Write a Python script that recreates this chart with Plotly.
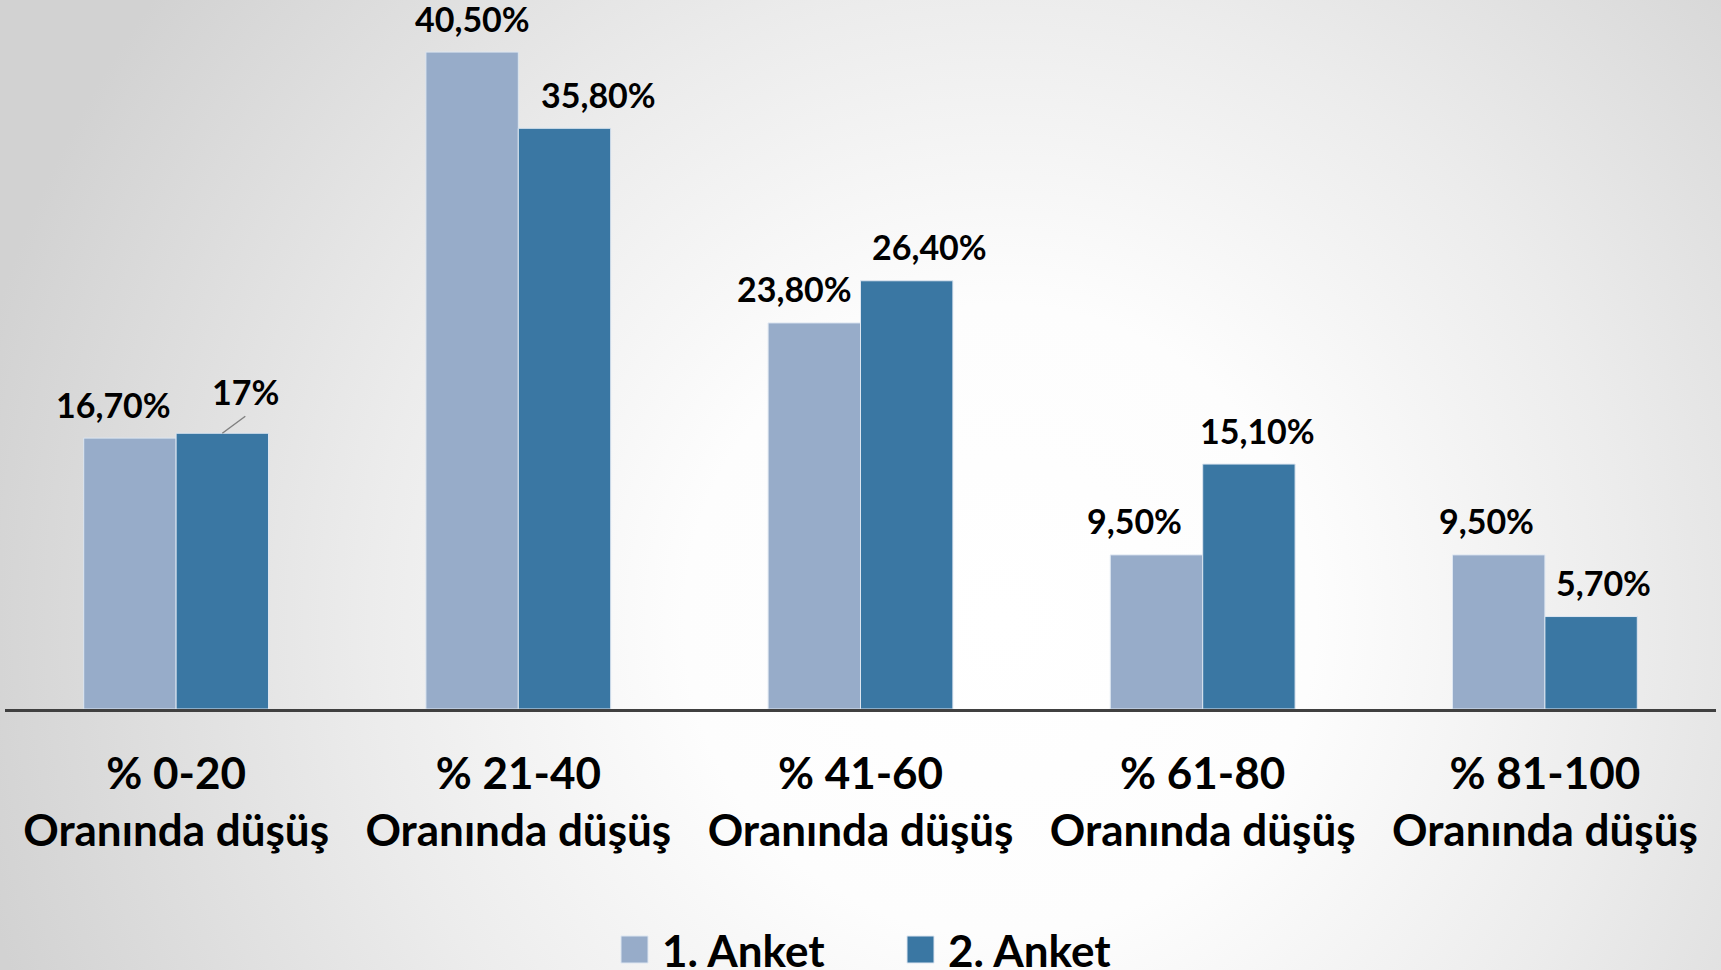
import base64
import plotly.graph_objects as go

# ---- data ----
categories = ["% 0-20<br>Oranında düşüş", "% 21-40<br>Oranında düşüş", "% 41-60<br>Oranında düşüş",
              "% 61-80<br>Oranında düşüş", "% 81-100<br>Oranında düşüş"]
series_names = ["1. Anket", "2. Anket"]
anket1 = [16.7, 40.5, 23.8, 9.5, 9.5]
anket2 = [17.0, 35.8, 26.4, 15.1, 5.7]

# ---- styles ----
W, H = 1721, 970
ML, MR, MT, MB = 5, 5, 0, 261
PW, PH = W - ML - MR, H - MT - MB
colors = ["#97acc9", "#3a77a3"]
FONT = "Lato"
BARGAP = 0.46
YMAX = 43.71
LBL = 34
# label shifts (px) per series/category
shift1 = [-16, 0, -20, -22, -12]
shift2 = [0, 34, 23, 9, 12]


def fmt(v):
    if abs(v - round(v)) < 1e-9:
        return f"{int(round(v))}%"
    return f"{v:.2f}".replace(".", ",") + "%"


def px_x(px):
    return (px - ML) / PW


def px_y(py):
    return (H - MB - py) / PH


fig = go.Figure()
for name, vals, col in zip(series_names, [anket1, anket2], colors):
    fig.add_trace(go.Bar(
        x=categories, y=vals, name=name,
        marker=dict(color=col, line=dict(color="#dde6f1", width=1)),
        showlegend=False, hoverinfo="skip",
    ))

half = (1 - BARGAP) / 4
annotations = []
shapes = []
for i, (v1, v2) in enumerate(zip(anket1, anket2)):
    annotations.append(dict(x=i - half, y=v1, xref="x", yref="y", text=fmt(v1), showarrow=False,
                            xshift=shift1[i], yshift=34, yanchor="middle",
                            font=dict(family=FONT, size=LBL, color="#000", weight="bold")))
    if i == 0:
        annotations.append(dict(x=i + half, y=v2, xref="x", yref="y", text=fmt(v2), showarrow=False,
                                xshift=23, yshift=42, yanchor="middle",
                                font=dict(family=FONT, size=LBL, color="#000", weight="bold")))
        shapes.append(dict(type="line", xref="x", yref="y", xsizemode="pixel", ysizemode="pixel",
                           xanchor=i + half, yanchor=v2, x0=0, y0=0, x1=23, y1=17,
                           line=dict(color="#808080", width=1.5)))
    else:
        annotations.append(dict(x=i + half, y=v2, xref="x", yref="y", text=fmt(v2), showarrow=False,
                                xshift=shift2[i], yshift=34, yanchor="middle",
                                font=dict(family=FONT, size=LBL, color="#000", weight="bold")))

# manual legend
leg_items = [(621, 660), (907, 946)]
for (sx, tx), name, col in zip(leg_items, series_names, colors):
    shapes.append(dict(type="rect", xref="paper", yref="paper",
                       x0=px_x(sx), x1=px_x(sx + 27), y0=px_y(936), y1=px_y(963),
                       fillcolor=col, line=dict(color="#dde6f1", width=1)))
    annotations.append(dict(x=px_x(tx), y=px_y(950), xref="paper", yref="paper", text=name,
                            showarrow=False, xanchor="left", yanchor="middle",
                            font=dict(family=FONT, size=44, color="#000", weight="bold")))

# background radial gradient
svg = f"""<svg xmlns='http://www.w3.org/2000/svg' width='{W}' height='{H}'>
<defs><radialGradient id='g' gradientUnits='userSpaceOnUse' cx='1000' cy='620' r='1050'>
<stop offset='0' stop-color='#ffffff'/><stop offset='0.3' stop-color='#fdfdfd'/>
<stop offset='0.6' stop-color='#ececec'/><stop offset='1' stop-color='#d2d2d2'/>
</radialGradient></defs><rect width='{W}' height='{H}' fill='url(#g)'/></svg>"""
src = "data:image/svg+xml;base64," + base64.b64encode(svg.encode()).decode()

fig.update_layout(
    width=W, height=H,
    margin=dict(l=ML, r=MR, t=MT, b=MB, pad=0),
    barmode="group", bargap=BARGAP, bargroupgap=0,
    paper_bgcolor="#e6e6e6", plot_bgcolor="rgba(0,0,0,0)",
    images=[dict(source=src, xref="paper", yref="paper", x=px_x(0), y=px_y(0),
                 sizex=W / PW, sizey=H / PH, xanchor="left", yanchor="top",
                 sizing="stretch", layer="below")],
    annotations=annotations, shapes=shapes,
    xaxis=dict(showline=True, linecolor="#404040", linewidth=3, ticks="", showgrid=False,
               tickfont=dict(family=FONT, size=44, color="#000", weight="bold"),
               ticklabelstandoff=24),
    yaxis=dict(range=[0, YMAX], visible=False, showgrid=False),
)

fig.write_html("out.html", config={"displayModeBar": False},
               post_script="document.body.style.margin='0';document.body.style.overflow='hidden';")
